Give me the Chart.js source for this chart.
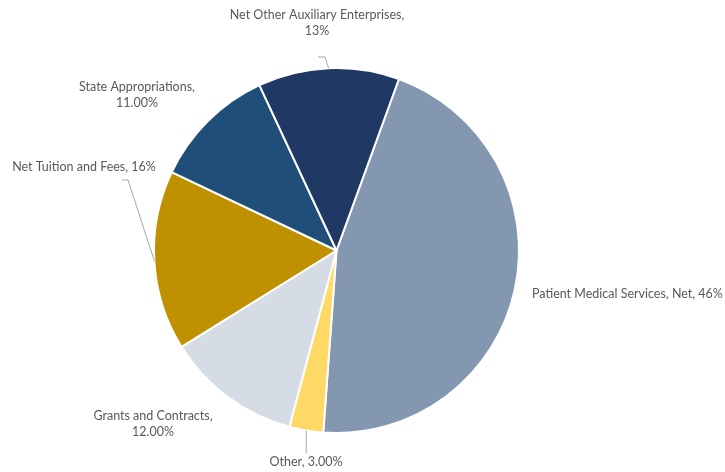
<!DOCTYPE html>
<html>
<head>
<meta charset="utf-8">
<script src="https://cdn.jsdelivr.net/npm/chart.js@4.4.1/dist/chart.umd.min.js"></script>
<style>
  html, body { margin: 0; padding: 0; background: #ffffff; }
  #wrap { width: 725px; height: 472px; }
</style>
</head>
<body>
<div id="wrap"><canvas id="c" width="725" height="472"></canvas></div>
<script>
// ---- data ----
const categories = [
  "Patient Medical Services, Net",
  "Other",
  "Grants and Contracts",
  "Net Tuition and Fees",
  "State Appropriations",
  "Net Other Auxiliary Enterprises"
];
const values = [45.6, 3, 12, 15.9, 11, 12.5];
const percentDecimals = [0, 2, 2, 0, 2, 0];
const colors = ["#8497B0", "#FFD966", "#D6DCE5", "#BF9000", "#1F4E79", "#203864"];

// ---- label layout (relative to pie centre, in units of radius) ----
const labelLayout = [
  { ox: 1.0712, oy: 0.2384, align: "left", lines: "one" },
  { ox: -0.1671, oy: 1.1589, align: "center", lines: "one", leader: [[null, 1.1096]] },
  { ox: -1.0055, oy: 0.9507, align: "center", lines: "two" },
  { ox: -1.3836, oy: -0.4575, align: "center", lines: "one", leader: [[-1.1425, -0.3863], [-1.1753, -0.3863]] },
  { ox: -1.0932, oy: -0.8521, align: "center", lines: "two" },
  { ox: -0.1068, oy: -1.2466, align: "center", lines: "two", leader: [[-0.063, -1.0603], [-0.1014, -1.0603]] }
];

const FONT = "12.5px Lato, 'Open Sans', sans-serif";
const LINE_H = 16.5;

const labelPlugin = {
  id: "pieLabels",
  afterDatasetsDraw(chart) {
    const ctx = chart.ctx;
    const meta = chart.getDatasetMeta(0);
    ctx.save();
    meta.data.forEach((arc, i) => {
      const p = arc.getProps(["x", "y", "startAngle", "endAngle", "outerRadius"], true);
      const cx = p.x, cy = p.y, r = p.outerRadius;
      const mid = (p.startAngle + p.endAngle) / 2;
      const ex = cx + Math.cos(mid) * r;
      const ey = cy + Math.sin(mid) * r;
      const L = labelLayout[i];
      // leader line
      if (L.leader) {
        ctx.strokeStyle = "#A6A6A6";
        ctx.lineWidth = 1;
        ctx.beginPath();
        ctx.moveTo(ex, ey);
        L.leader.forEach(pt => {
          const px = pt[0] === null ? ex : cx + pt[0] * r;
          const py = cy + pt[1] * r;
          ctx.lineTo(px, py);
        });
        ctx.stroke();
      }
      const pct = values[i].toFixed(percentDecimals[i]) + "%";
      const lx = cx + L.ox * r;
      const ly = cy + L.oy * r;
      ctx.fillStyle = "#595959";
      ctx.font = FONT;
      ctx.textAlign = L.align;
      ctx.textBaseline = "middle";
      if (L.lines === "two") {
        ctx.fillText(categories[i] + ",", lx, ly - LINE_H / 2);
        ctx.fillText(pct, lx, ly + LINE_H / 2);
      } else {
        ctx.fillText(categories[i] + ", " + pct, lx, ly);
      }
    });
    ctx.restore();
  }
};

new Chart(document.getElementById("c"), {
  type: "pie",
  data: {
    labels: categories,
    datasets: [{
      data: values,
      backgroundColor: colors,
      borderColor: "#FFFFFF",
      borderWidth: 2,
      hoverOffset: 0,
      offset: 0
    }]
  },
  options: {
    responsive: false,
    animation: false,
    rotation: 20,
    layout: { padding: { top: 67, bottom: 38, left: 100, right: 152 } },
    plugins: { legend: { display: false }, tooltip: { enabled: false } },
    events: []
  },
  plugins: [labelPlugin]
});
</script>
</body>
</html>
